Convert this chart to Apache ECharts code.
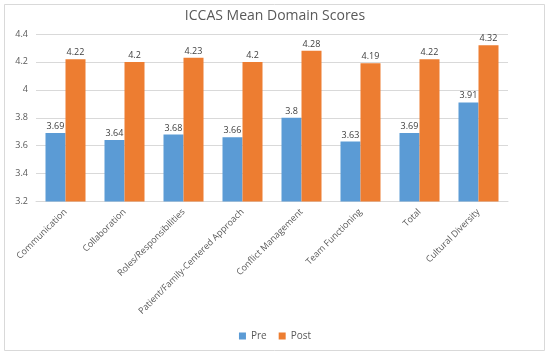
<!DOCTYPE html>
<html><head><meta charset="utf-8">
<script src="https://cdn.jsdelivr.net/npm/echarts@6/dist/echarts.min.js"></script>
<style>html,body{margin:0;padding:0;background:#fff}#c{width:550px;height:356px}</style>
</head><body><div id="c"></div>
<script>
const categories = ["Communication","Collaboration","Roles/Responsibilities","Patient/Family-Centered Approach","Conflict Management","Team Functioning","Total","Cultural Diversity"];
const preValues = [3.69,3.64,3.68,3.66,3.8,3.63,3.69,3.91];
const postValues = [4.22,4.2,4.23,4.2,4.28,4.19,4.22,4.32];
const seriesNames = ["Pre","Post"];
const yMin = 3.2, yMax = 4.4, yStep = 0.2;

const font = "'Open Sans', 'Liberation Sans', sans-serif";
const chart = echarts.init(document.getElementById('c'), null, {renderer:'canvas'});
const lbl = {show:true, position:'top', distance:2, color:'#404040', fontSize:9, fontFamily:font};
chart.setOption({
  animation:false,
  backgroundColor:'#fff',
  graphic:[{type:'rect', shape:{x:4.5,y:4.5,width:540,height:346}, style:{fill:'none', stroke:'#d9d9d9', lineWidth:1}}],
  title:{text:'ICCAS Mean Domain Scores', left:'center', top:4, textStyle:{fontFamily:font, fontSize:14, fontWeight:'normal', color:'#595959'}},
  legend:{data:seriesNames, bottom:10, left:'center', itemWidth:7, itemHeight:7, itemGap:12, icon:'rect',
    textStyle:{fontFamily:font, fontSize:10, color:'#595959'}},
  grid:{left:36, right:42, top:34, bottom:154.5, containLabel:false},
  xAxis:{type:'category', data:categories,
    axisLine:{lineStyle:{color:'#d9d9d9'}}, axisTick:{show:false},
    axisLabel:{rotate:45, interval:0, fontFamily:font, fontSize:9, color:'#595959', margin:9}},
  yAxis:{type:'value', min:yMin, max:yMax, interval:yStep,
    axisLine:{show:false}, axisTick:{show:false},
    splitLine:{lineStyle:{color:'#d9d9d9'}},
    axisLabel:{fontFamily:font, fontSize:9, color:'#595959', margin:8, formatter:v=>String(+v.toFixed(1))}},
  series:[
    {name:seriesNames[0], type:'bar', data:preValues, barWidth:20, barGap:'0%', itemStyle:{color:'#5b9bd5'}, label:lbl},
    {name:seriesNames[1], type:'bar', data:postValues, barWidth:20, itemStyle:{color:'#ed7d31'}, label:lbl}
  ]
});
</script></body></html>
